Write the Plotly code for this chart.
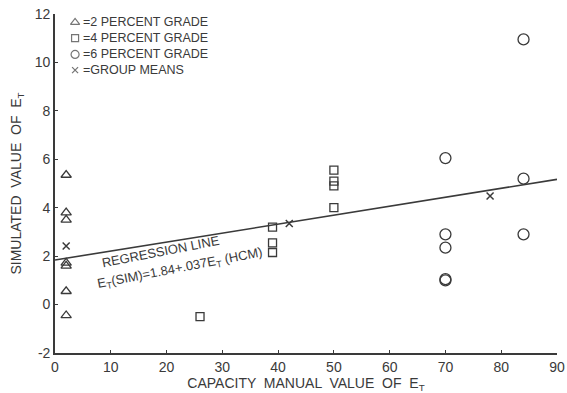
import plotly.graph_objects as go

# 2 percent grade (triangles)
tri_x = [2, 2, 2, 2, 2, 2, 2]
tri_y = [5.35, 3.8, 3.5, 1.72, 1.6, 0.55, -0.45]
# 4 percent grade (squares)
sq_x = [26, 39, 39, 39, 50, 50, 50, 50]
sq_y = [-0.5, 3.2, 2.55, 2.15, 5.55, 5.1, 4.9, 4.0]
# 6 percent grade (circles)
ci_x = [70, 70, 70, 70, 70, 84, 84, 84]
ci_y = [6.05, 2.9, 2.35, 1.05, 1.0, 10.95, 5.2, 2.9]
# group means
mean_x = [2, 42, 78]
mean_y = [2.42, 3.35, 4.48]
# regression line
reg_intercept = 1.84
reg_slope = 0.037
reg_x = [0, 90]
reg_y = [reg_intercept + reg_slope * v for v in reg_x]

x_ticks = [0, 10, 20, 30, 40, 50, 60, 70, 80, 90]
y_ticks = [-2, 0, 2, 4, 6, 8, 10, 12]
y_tick_text = ["-2", "0", "2", "4", "6", "8", "10", "12"]

legend_labels = ["=2 PERCENT GRADE", "=4 PERCENT GRADE", "=6 PERCENT GRADE", "=GROUP MEANS"]
legend_symbols = ["triangle-up-open", "square-open", "circle-open", "x-thin-open"]
legend_sizes = [8, 7, 8, 6]
legend_y = [11.65, 11.0, 10.33, 9.68]

INK = "#3a3a3a"
FONT = "Liberation Sans"

fig = go.Figure()
fig.add_trace(go.Scatter(x=reg_x, y=reg_y, mode="lines",
                         line=dict(color=INK, width=1.6), showlegend=False, hoverinfo="skip"))
fig.add_trace(go.Scatter(x=tri_x, y=tri_y, mode="markers", cliponaxis=False,
                         marker=dict(symbol="triangle-up-open", size=9, color=INK, line=dict(width=1.3)),
                         showlegend=False))
fig.add_trace(go.Scatter(x=sq_x, y=sq_y, mode="markers", cliponaxis=False,
                         marker=dict(symbol="square-open", size=8, color=INK, line=dict(width=1.3)),
                         showlegend=False))
fig.add_trace(go.Scatter(x=ci_x, y=ci_y, mode="markers", cliponaxis=False,
                         marker=dict(symbol="circle-open", size=11, color=INK, line=dict(width=1.3)),
                         showlegend=False))
fig.add_trace(go.Scatter(x=mean_x, y=mean_y, mode="markers", cliponaxis=False,
                         marker=dict(symbol="x-thin-open", size=7, color=INK, line=dict(width=1.5, color=INK)),
                         showlegend=False))

# legend key symbols
fig.add_trace(go.Scatter(x=[3.6] * len(legend_y), y=legend_y, mode="markers", cliponaxis=False,
                         marker=dict(symbol=legend_symbols, size=legend_sizes, color=INK,
                                     line=dict(width=1.2, color=INK)),
                         showlegend=False, hoverinfo="skip"))
for txt, yy in zip(legend_labels, legend_y):
    fig.add_annotation(x=4.6, y=yy, xref="x", yref="y", text=txt, showarrow=False,
                       xanchor="left", yanchor="middle",
                       font=dict(family=FONT, size=12.5, color=INK))

fig.add_annotation(x=7.8, y=1.3, xref="x", yref="y", text="REGRESSION LINE", showarrow=False,
                   xanchor="left", yanchor="bottom", textangle=-11,
                   font=dict(family=FONT, size=13, color=INK))
fig.add_annotation(x=7.0, y=0.38, xref="x", yref="y",
                   text="E<sub>T</sub>(SIM)=1.84+.037E<sub>T</sub> (HCM)", showarrow=False,
                   xanchor="left", yanchor="bottom", textangle=-11,
                   font=dict(family=FONT, size=13, color=INK))

fig.update_layout(
    width=567, height=393,
    margin=dict(l=55, r=10, t=14, b=40),
    paper_bgcolor="white", plot_bgcolor="white",
    font=dict(family=FONT, size=13, color=INK),
    showlegend=False,
)
fig.update_xaxes(range=[0, 90], tickvals=x_ticks, ticks="inside", ticklen=3, tickcolor=INK,
                 showline=True, linecolor=INK, linewidth=1.6, showgrid=False, zeroline=False,
                 automargin=False,
                 tickfont=dict(family=FONT, size=14, color=INK),
                 title=dict(text="CAPACITY  MANUAL  VALUE  OF  E<sub>T</sub>", standoff=4,
                            font=dict(family=FONT, size=14, color=INK)))
fig.update_yaxes(range=[-2, 12], tickvals=y_ticks, ticktext=y_tick_text, ticks="inside", ticklen=3,
                 tickcolor=INK, showline=True, linecolor=INK, linewidth=1.6, showgrid=False,
                 zeroline=False, automargin=False, tickfont=dict(family=FONT, size=14, color=INK),
                 title=dict(text="SIMULATED  VALUE  OF  E<sub>T</sub>", standoff=10,
                            font=dict(family=FONT, size=14, color=INK)))

fig.write_html("out.html")
